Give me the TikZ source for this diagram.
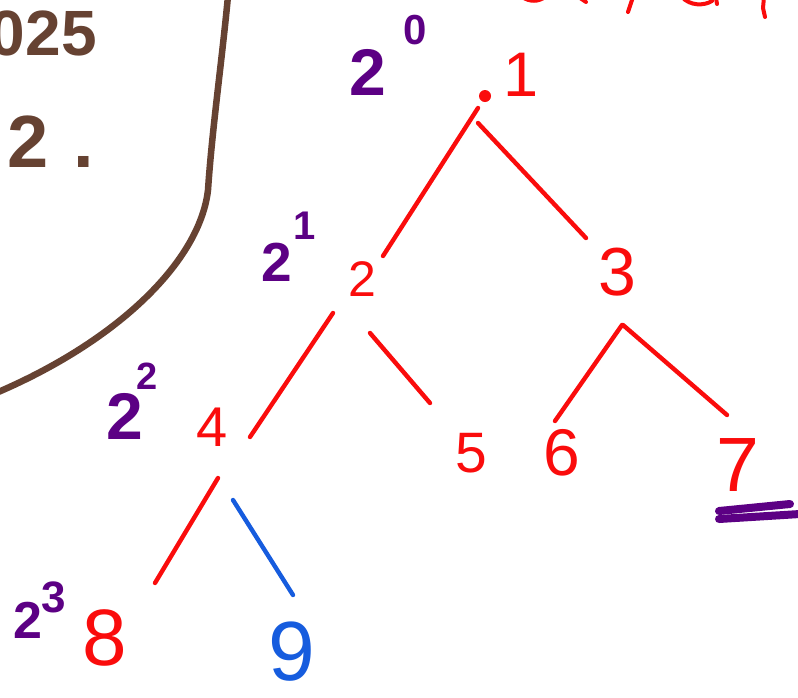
\documentclass[tikz,border=0pt]{standalone}
\usepackage{fontspec}
\setmainfont{Liberation Sans}
\begin{document}
\begin{tikzpicture}[x=1pt,y=-1pt,
  num/.style={inner sep=0pt,outer sep=0pt,text={rgb,255:red,250;green,12;blue,12},font=\fontsize{#1}{#1}\selectfont},
  bluenum/.style={num=#1,text={rgb,255:red,22;green,92;blue,222}},
  power/.style={inner sep=0pt,outer sep=0pt,text={rgb,255:red,92;green,0;blue,132},font=\bfseries\fontsize{#1}{#1}\selectfont},
  note/.style={inner sep=0pt,outer sep=0pt,anchor=west,text={rgb,255:red,102;green,66;blue,50},font=\bfseries\fontsize{#1}{#1}\selectfont},
  edge/.style={draw={rgb,255:red,250;green,12;blue,12},line width=4.4pt,line cap=round},
  blueedge/.style={edge,draw={rgb,255:red,22;green,92;blue,222}},
  scrawl/.style={draw={rgb,255:red,250;green,12;blue,12},line width=4pt,line cap=round}]
\path[use as bounding box] (0,0) rectangle (798,697);
\path[fill=white,draw=none] (0,0) rectangle (798,697);
% margin notes and divider
\node[note=64] (year) at (-10,33) {025};
\node[note=74] (item) at (8,142) {2\hspace{24pt}.};
\draw[draw={rgb,255:red,102;green,66;blue,50},line width=6.5pt,line cap=round] (228,-4) .. controls (222,60) and (212,130) .. (208,190) .. controls (200,260) and (120,340) .. (-4,393);
% cut-off heading
\draw[scrawl] (522,-3) .. controls (530,2) and (538,2) .. (545,-3);
\draw[scrawl] (580,-2) -- (586,2);
\draw[scrawl] (633,-3) -- (628,12);
\draw[scrawl] (682,-3) .. controls (690,6) and (704,6) .. (712,1);
\draw[scrawl] (716,-2) -- (717,4);
\draw[scrawl] (764,-3) -- (763,8) -- (765,17);
% level labels
\node[power=66] (lvl0) at (368,72) {2};
\node[power=42] (lvl0e) at (415,30) {0};
\node[power=55] (lvl1) at (277,262) {2};
\node[power=40] (lvl1e) at (305,226) {1};
\node[power=66] (lvl2) at (125,416) {2};
\node[power=38] (lvl2e) at (147,376) {2};
\node[power=52] (lvl3) at (28,620) {2};
\node[power=44] (lvl3e) at (54,597) {3};
% tree
\node[num=63] (n1) at (521,75) {1};
\path[fill={rgb,255:red,250;green,12;blue,12}] (485,96) circle (6pt) node (root) {};
\node[num=50] (n2) at (362,279) {2};
\node[num=68] (n3) at (617,272) {3};
\node[num=56] (n4) at (212,427) {4};
\node[num=57] (n5) at (471,453) {5};
\node[num=66] (n6) at (562,453) {6};
\node[num=77] (n7) at (738,465) {7};
\node[num=80] (n8) at (105,638) {8};
\node[bluenum=84] (n9) at (292,652) {9};
\draw[edge] ([shift={(-7,12)}]root.center) -- ([shift={(21,-23)}]n2.center);
\draw[edge] ([shift={(-7,27)}]root.center) -- ([shift={(-31,-34)}]n3.center);
\draw[edge] ([shift={(-29,34)}]n2.center) -- ([shift={(38,10)}]n4.center);
\draw[edge] ([shift={(8,54)}]n2.center) -- ([shift={(-41,-50)}]n5.center);
\draw[edge] ([shift={(5,53)}]n3.center) -- ([shift={(-7,-32)}]n6.center);
\draw[edge] ([shift={(6,53)}]n3.center) -- ([shift={(-11,-50)}]n7.center);
\draw[edge] ([shift={(6,51)}]n4.center) -- ([shift={(50,-55)}]n8.center);
\draw[blueedge] ([shift={(21,73)}]n4.center) -- ([shift={(1,-57)}]n9.center);
% underline under 7
\draw[draw={rgb,255:red,92;green,0;blue,132},line width=8pt,line cap=round] (719,511) -- (790,504);
\draw[draw={rgb,255:red,92;green,0;blue,132},line width=8pt,line cap=round] (719,519) -- (800,514);
\end{tikzpicture}
\end{document}
